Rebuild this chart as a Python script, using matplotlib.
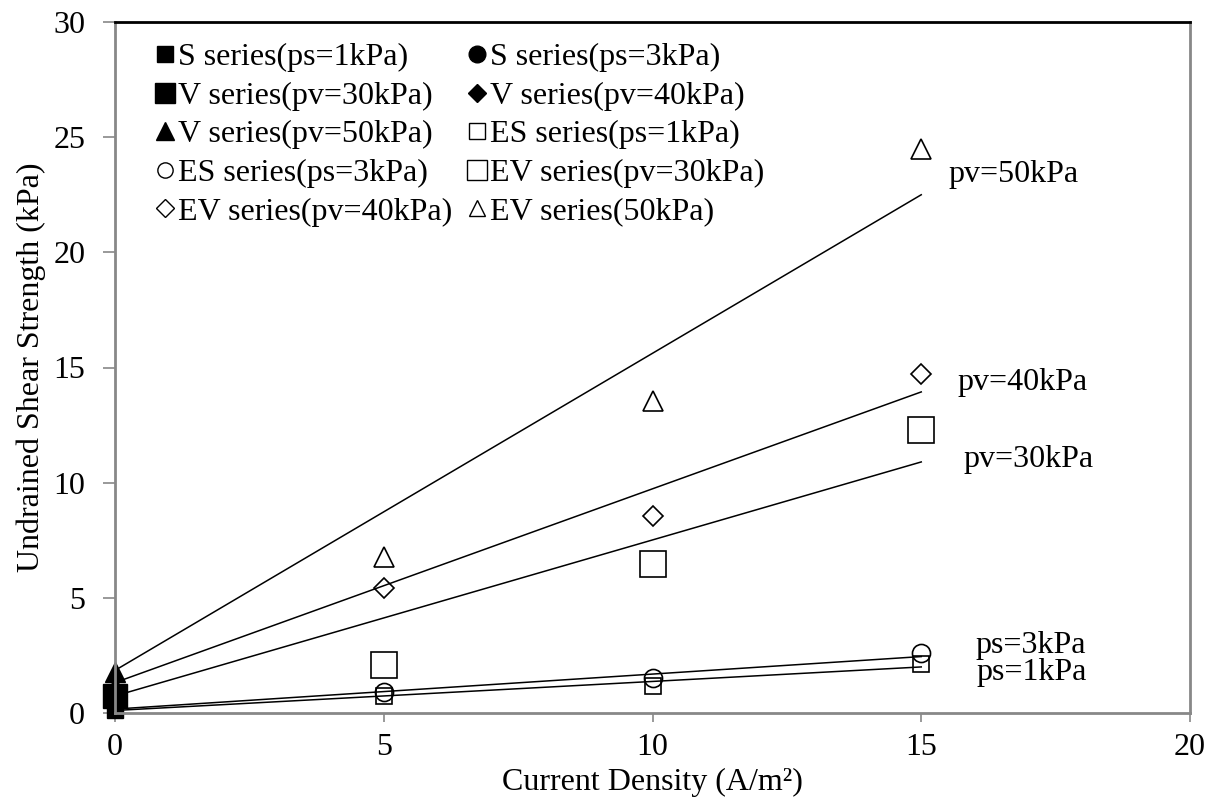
import matplotlib.pyplot as plt
from matplotlib.lines import Line2D

plt.rcParams['font.family'] = ['Liberation Serif', 'DejaVu Serif']

# current density of the EV / ES tests
x_ev = [5, 10, 15]
es_ps1 = [0.74, 1.17, 2.13]
es_ps3 = [0.90, 1.52, 2.60]
ev_pv30 = [2.08, 6.47, 12.29]
ev_pv40 = [5.43, 8.55, 14.72]
ev_pv50 = [6.77, 13.55, 24.5]

# control tests (no current)
x_ctrl = [0]
s_ps1 = [0.15]
s_ps3 = [0.30]
v_pv30 = [0.74]
v_pv40 = [1.00]
v_pv50 = [1.78]

# trend lines, value at x=0 and x=15
trend_x = [0, 15]
trend_names = ["ps=1kPa", "ps=3kPa", "pv=30kPa", "pv=40kPa", "pv=50kPa"]
trend_start = [0.11, 0.17, 0.74, 1.32, 1.85]
trend_end = [2.00, 2.45, 10.90, 13.94, 22.50]
label_pos = [(16.02, 1.78), (16.0, 2.91), (15.78, 10.99), (15.68, 14.33), (15.5, 23.36)]

fs = 23

fig = plt.figure(figsize=(12.15, 8.02), dpi=100)
ax = fig.add_axes([115/1215, 1 - 713/802, (1190-115)/1215, (713-22)/802])

for y0, y1 in zip(trend_start, trend_end):
    ax.plot(trend_x, [y0, y1], color="black", lw=1.1, zorder=1)

mew = 1.2
ax.plot(x_ctrl, s_ps1, "s", color="black", ms=11, ls="none", clip_on=False)
ax.plot(x_ctrl, s_ps3, "o", color="black", ms=12, ls="none", clip_on=False)
ax.plot(x_ctrl, v_pv30, "s", color="black", ms=17, ls="none", clip_on=False)
ax.plot(x_ctrl, v_pv40, "D", color="black", ms=10, ls="none", clip_on=False)
ax.plot(x_ctrl, v_pv50, "^", color="black", ms=14, ls="none", clip_on=False)
ax.plot(x_ev, es_ps1, "s", mfc="none", mec="black", mew=mew, ms=11, ls="none")
ax.plot(x_ev, es_ps3, "o", mfc="none", mec="black", mew=mew, ms=13, ls="none")
ax.plot(x_ev, ev_pv30, "s", mfc="none", mec="black", mew=mew, ms=19, ls="none")
ax.plot(x_ev, ev_pv40, "D", mfc="none", mec="black", mew=mew, ms=10, ls="none")
ax.plot(x_ev, ev_pv50, "^", mfc="none", mec="black", mew=mew, ms=14, ls="none")

for name, (tx, ty) in zip(trend_names, label_pos):
    ax.text(tx, ty, name, fontsize=fs, va="center", ha="left")

# legend entries: label, marker, filled, size  (column by column)
leg_labels = ["S series(ps=1kPa)", "V series(pv=30kPa)", "V series(pv=50kPa)",
              "ES series(ps=3kPa)", "EV series(pv=40kPa)",
              "S series(ps=3kPa)", "V series(pv=40kPa)", "ES series(ps=1kPa)",
              "EV series(pv=30kPa)", "EV series(50kPa)"]
leg_markers = ["s", "s", "^", "o", "D", "o", "D", "s", "s", "^"]
leg_filled = [True, True, True, False, False, True, True, False, False, False]
leg_sizes = [12, 15, 13, 11, 9, 12, 9, 11, 15, 12]
handles = []
for m, f, s in zip(leg_markers, leg_filled, leg_sizes):
    handles.append(Line2D([], [], ls="none", marker=m, ms=s, mec="black",
                          mfc="black" if f else "none", mew=1.0))

ax.legend(handles, leg_labels, ncol=2, loc="upper left",
          bbox_to_anchor=(37/1075, 1 - 16/691), frameon=False, fontsize=fs,
          handlelength=0.5, handletextpad=0.15, columnspacing=0.55, labelspacing=0.29,
          borderaxespad=0.0, borderpad=0.15)

ax.set_xlim(0, 20)
ax.set_ylim(0, 30)
ax.set_xticks([0, 5, 10, 15, 20])
ax.set_yticks([0, 5, 10, 15, 20, 25, 30])
ax.tick_params(axis="both", direction="out", width=1.2, color="#888888", labelsize=fs)
ax.tick_params(axis="y", length=8.5, pad=13)
ax.tick_params(axis="x", length=6.5, pad=8)

for s in ["left", "bottom", "right"]:
    ax.spines[s].set_color("#888888")
    ax.spines[s].set_linewidth(2)
ax.spines["top"].set_color("black")
ax.spines["top"].set_linewidth(2)

ax.set_xlabel("Current Density (A/m²)", fontsize=fs, labelpad=4)
ax.set_ylabel("Undrained Shear Strength (kPa)", fontsize=fs, labelpad=5)

plt.savefig("out.png", dpi=100)
